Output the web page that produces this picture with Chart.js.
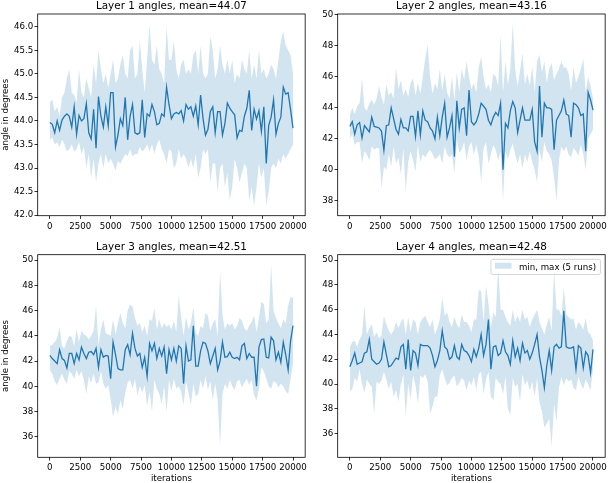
<!DOCTYPE html>
<html><head><meta charset="utf-8">
<script src="https://cdn.jsdelivr.net/npm/chart.js@4/dist/chart.umd.min.js"></script>
<style>
html,body{margin:0;padding:0;background:#fff;width:609px;height:483px;overflow:hidden}
canvas{position:absolute}
</style></head><body>
<canvas id="c1" style="left:0;top:0" width="309" height="240"></canvas>
<canvas id="c2" style="left:309px;top:0" width="300" height="240"></canvas>
<canvas id="c3" style="left:0;top:240px" width="309" height="243"></canvas>
<canvas id="c4" style="left:309px;top:240px" width="300" height="243"></canvas>
<script>
// ---------------- data ----------------
const iterations = [0,200,400,600,800,1000,1200,1400,1600,1800,2000,2200,2400,2600,2800,3000,3200,3400,3600,3800,4000,4200,4400,4600,4800,5000,5200,5400,5600,5800,6000,6200,6400,6600,6800,7000,7200,7400,7600,7800,8000,8200,8400,8600,8800,9000,9200,9400,9600,9800,10000,10200,10400,10600,10800,11000,11200,11400,11600,11800,12000,12200,12400,12600,12800,13000,13200,13400,13600,13800,14000,14200,14400,14600,14800,15000,15200,15400,15600,15800,16000,16200,16400,16600,16800,17000,17200,17400,17600,17800,18000,18200,18400,18600,18800,19000,19200,19400,19600,19800,20000];
const xTickValues = [0,2500,5000,7500,10000,12500,15000,17500,20000];
const layer1YTicks = [42.0,42.5,43.0,43.5,44.0,44.5,45.0,45.5,46.0];
const layer2YTicks = [38,40,42,44,46,48,50];
const layer34YTicks = [36,38,40,42,44,46,48,50];
const titles = ['Layer 1 angles, mean=44.07','Layer 2 angles, mean=43.16','Layer 3 angles, mean=42.51','Layer 4 angles, mean=42.48'];
const legendLabel = 'min, max (5 runs)';
const xLabel = 'iterations';
const yLabel = 'angle in degrees';

const layer1Mean = [43.97,43.93,43.75,44.0,43.8,44.02,44.1,44.15,44.1,43.87,
 44.3,43.72,44.12,44.0,44.05,44.37,43.75,43.62,44.25,43.42,
 44.52,44.1,43.87,44.3,43.9,44.6,44.6,43.45,43.7,44.05,
 43.9,44.5,43.6,44.1,44.35,43.75,43.72,43.75,44.45,43.65,
 44.15,44.1,44.35,44.2,43.92,43.95,44.15,44.1,44.72,44.35,
 44.05,44.15,44.18,44.15,44.22,44.0,44.35,44.25,44.3,44.1,
 44.32,43.92,44.55,44.05,43.7,43.82,44.2,44.3,43.75,44.2,
 44.2,43.7,43.95,44.38,44.27,44.2,44.13,43.64,43.8,43.78,
 44.1,44.27,44.65,43.8,44.25,44.04,44.22,43.78,44.3,43.1,
 43.9,44.08,44.45,43.72,43.95,44.08,44.72,44.57,44.6,44.24,
 43.85];
const layer1Max = [44.4,44.45,44.2,44.3,44.1,44.5,44.6,44.9,45.1,44.6,
 44.55,44.4,45.1,44.6,44.5,44.9,44.7,44.5,45.2,44.8,
 45.5,45.1,44.8,45.0,44.7,45.0,45.3,44.8,44.9,45.2,
 45.4,45.0,44.9,45.5,45.6,44.9,45.0,45.7,45.1,44.6,
 45.3,46.05,45.3,45.2,45.6,45.1,45.0,44.8,46.0,45.3,
 45.3,45.7,45.1,44.9,45.2,45.3,45.0,45.1,45.0,45.4,
 45.5,45.0,45.6,45.0,44.9,45.0,45.8,45.5,44.9,45.1,
 45.6,45.2,45.0,45.3,45.0,45.3,44.8,45.0,44.9,45.3,
 45.1,45.0,45.5,44.9,45.2,44.9,45.5,45.0,45.1,44.9,
 45.0,45.2,45.1,44.9,45.3,45.7,45.9,45.6,45.5,45.4,
 45.0];
const layer1Min = [43.6,43.65,43.5,43.55,43.45,43.6,43.5,43.35,43.4,43.5,
 43.35,43.4,43.55,43.3,43.45,43.0,43.3,42.8,43.2,42.7,
 43.1,43.3,43.0,43.3,43.1,43.2,43.1,42.95,43.15,43.1,
 43.2,43.3,43.25,43.4,43.25,43.3,43.3,43.45,43.35,43.4,
 43.5,43.35,43.5,43.3,43.5,43.6,43.4,43.3,43.1,43.4,
 43.35,43.0,43.1,43.4,43.2,43.3,43.2,43.0,43.2,43.0,
 43.3,42.8,43.0,43.4,43.3,43.4,42.7,43.1,43.1,42.5,
 43.0,43.1,42.6,42.9,42.3,42.6,43.2,43.0,42.7,42.9,
 43.1,43.0,42.3,42.6,42.2,42.6,43.1,42.8,43.0,42.2,
 42.5,43.0,43.1,43.0,43.2,43.1,43.3,43.2,43.3,43.4,
 43.5];

const layer2Mean = [42.8,43.1,42.3,42.9,43.05,42.05,42.85,42.65,42.45,43.4,
 42.8,42.75,42.7,42.5,41.25,42.85,42.9,44.0,43.3,42.6,
 42.3,43.25,42.7,42.7,42.5,43.45,43.45,42.15,43.8,42.25,
 43.8,43.2,43.1,42.7,42.5,42.0,43.4,42.2,43.4,44.3,
 42.1,42.7,43.5,40.85,44.45,42.7,43.9,44.0,42.2,45.15,
 43.1,42.9,43.1,43.6,44.3,44.1,43.9,43.2,42.9,43.4,
 43.7,43.5,44.3,40.0,43.0,42.7,43.8,44.4,44.0,42.4,
 43.2,44.0,43.2,43.2,43.2,43.9,41.8,41.2,45.4,42.1,
 44.3,44.0,44.0,43.9,41.3,43.2,43.5,43.8,44.5,43.6,
 43.5,42.1,44.3,44.2,44.0,43.5,43.6,41.2,45.0,44.5,
 43.85];
const layer2Max = [43.5,44.0,43.6,44.1,44.3,45.9,44.0,43.8,44.3,44.5,
 44.2,44.6,45.4,44.7,44.2,45.5,44.8,45.0,44.6,46.6,
 45.2,45.8,44.8,45.2,44.7,45.6,45.9,44.8,45.6,44.9,
 46.0,47.2,48.1,46.0,44.9,45.6,45.2,46.5,45.1,46.2,
 45.0,44.6,46.0,44.5,46.3,45.0,46.5,45.8,47.0,46.0,
 45.2,45.6,45.0,46.6,47.3,46.0,45.2,45.5,45.0,46.2,
 46.0,45.4,48.7,45.0,47.0,45.5,46.5,49.45,46.5,45.4,
 46.4,47.5,45.5,46.2,45.4,46.7,45.0,47.0,47.4,46.3,
 47.0,45.6,46.5,46.9,45.8,46.2,46.5,47.0,46.6,46.6,
 46.2,45.1,46.6,45.6,46.0,46.5,47.2,45.0,46.0,45.4,
 44.6];
const layer2Min = [42.0,42.3,41.6,41.8,41.8,40.4,41.2,41.0,40.6,41.5,
 41.3,41.4,41.4,38.8,40.2,40.0,41.0,40.2,41.5,40.4,
 40.8,39.7,41.4,38.6,40.5,41.2,40.6,39.9,41.6,40.5,
 41.0,40.8,41.1,41.3,41.0,40.7,40.8,41.0,40.4,41.5,
 41.0,40.8,41.0,39.8,42.0,41.1,41.3,41.8,40.6,41.5,
 41.8,41.0,41.6,40.9,39.2,41.4,41.8,40.4,41.0,41.6,
 41.3,40.6,41.2,38.0,41.2,40.7,41.3,41.7,41.0,40.4,
 41.0,40.1,41.0,40.5,41.2,40.5,40.0,39.2,41.3,40.5,
 41.8,41.2,41.0,40.6,39.5,38.0,40.6,41.5,41.2,41.5,
 41.0,40.8,41.4,41.2,40.9,41.6,41.0,40.0,42.0,42.3,
 42.6];

const layer3Mean = [42.45,42.2,42.0,41.8,42.9,42.2,42.05,41.45,42.6,42.6,
 41.8,42.6,42.1,43.1,42.6,42.2,42.7,42.75,42.5,43.0,
 41.5,42.9,42.3,42.45,42.4,40.6,43.5,42.5,41.4,41.3,
 41.3,42.9,43.3,42.5,44.2,43.0,42.4,42.6,41.5,42.3,
 40.8,43.4,42.8,43.4,42.2,43.0,42.4,43.1,41.0,42.9,
 42.1,43.0,42.0,43.2,43.0,40.2,43.2,42.0,42.1,44.8,
 41.6,41.6,42.8,43.5,43.4,42.8,41.8,42.4,43.0,41.3,
 42.0,43.5,42.3,42.35,42.7,42.3,42.2,42.3,42.1,43.2,
 43.4,42.2,42.6,42.3,42.3,40.0,43.1,43.7,43.75,42.3,
 42.25,43.9,43.6,42.1,42.7,41.9,43.5,42.5,41.3,43.6,
 44.8];
const layer3Max = [43.2,43.3,43.5,43.8,44.7,43.2,43.0,43.6,44.0,43.9,
 43.2,44.5,43.5,44.4,44.1,44.0,43.7,44.0,44.4,46.4,
 43.3,44.5,45.3,44.2,44.1,44.0,45.3,44.1,45.0,45.8,
 45.0,44.6,46.0,46.5,46.3,45.4,44.8,45.0,44.3,44.8,
 44.0,45.3,45.2,46.2,44.5,45.3,44.6,45.0,44.7,44.9,
 44.5,45.2,44.3,47.2,45.5,44.0,45.5,44.5,45.0,46.3,
 44.2,44.0,44.8,44.6,45.8,45.6,44.4,45.0,45.3,44.0,
 49.1,45.6,44.5,45.0,44.8,45.0,44.5,44.8,45.4,45.2,
 44.6,44.4,44.8,45.1,45.6,44.3,45.4,46.7,46.5,45.0,
 45.3,49.6,46.0,45.4,45.0,44.6,45.3,45.0,46.4,47.1,
 47.0];
const layer3Min = [41.3,41.0,40.4,40.1,40.6,41.0,40.5,40.2,41.2,41.0,
 40.6,41.3,40.8,41.2,40.5,39.4,40.8,40.3,41.0,40.2,
 40.3,41.2,40.2,39.8,40.1,39.0,37.6,38.4,37.8,38.9,
 38.2,39.5,40.3,40.5,39.8,40.6,39.3,40.0,39.5,40.1,
 38.4,39.6,38.0,40.5,39.8,39.4,38.6,40.0,38.0,40.5,
 39.6,40.6,39.8,40.0,39.6,38.5,40.4,39.5,38.5,40.2,
 39.2,39.4,40.5,39.8,40.8,39.7,40.4,38.9,40.2,39.0,
 35.3,39.4,40.2,39.8,40.5,40.0,39.7,40.4,40.5,39.9,
 40.3,40.6,40.1,40.5,39.3,38.9,39.8,41.5,41.2,40.6,
 40.0,39.8,40.4,40.3,39.9,40.2,40.0,39.6,39.4,40.6,
 41.8];

const layer4Mean = [41.4,41.9,42.5,41.6,41.7,41.8,42.5,42.6,43.6,42.0,
 41.8,41.6,41.7,42.0,43.4,42.4,41.4,41.5,41.8,42.1,
 42.0,43.0,43.2,41.2,43.6,41.1,42.7,42.5,41.5,43.2,
 43.1,43.1,43.1,42.9,42.3,41.4,41.9,42.7,44.3,43.0,
 42.8,42.0,42.2,43.1,42.2,42.0,43.2,42.7,42.6,42.3,
 41.8,42.8,42.2,42.9,44.0,42.3,43.2,45.2,41.2,43.0,
 43.1,42.3,42.5,43.5,42.6,42.3,41.6,43.5,42.2,42.9,
 41.9,43.3,42.5,42.7,42.0,42.5,43.2,44.0,42.2,41.1,
 39.7,41.5,42.7,41.1,43.0,43.2,42.9,43.0,45.9,43.0,
 42.9,42.9,43.0,41.2,43.1,42.9,41.3,42.6,42.3,40.9,
 42.8];
const layer4Max = [43.0,43.4,43.5,43.0,43.6,44.0,46.3,44.0,44.5,44.8,
 43.8,44.2,43.7,43.9,45.5,44.8,44.3,44.0,44.3,45.0,
 44.5,45.0,45.3,44.0,45.4,44.2,45.2,45.0,44.0,45.0,
 45.3,45.5,45.0,44.6,45.2,44.0,44.5,45.2,47.0,45.5,
 45.8,45.0,44.6,45.4,44.8,44.5,45.6,45.0,45.0,44.7,
 44.2,45.2,45.2,47.6,47.5,45.0,47.9,46.5,44.5,45.8,
 45.4,49.5,46.0,46.0,45.4,45.0,44.7,46.0,45.0,45.5,
 45.0,46.0,45.2,45.4,44.6,45.2,45.6,46.0,45.0,44.5,
 44.0,44.8,45.4,44.3,49.2,46.0,46.0,45.5,47.8,45.6,
 45.4,45.2,45.3,44.4,45.0,44.8,44.4,45.3,44.2,44.0,
 43.5];
const layer4Min = [39.4,39.6,40.5,40.2,41.2,40.0,39.3,40.4,40.0,39.8,
 37.6,40.2,40.0,40.3,41.0,40.4,39.6,40.2,39.0,39.5,
 38.6,40.0,40.8,37.5,40.0,38.8,40.7,39.9,38.4,40.7,
 40.5,40.8,40.2,37.6,38.2,39.0,39.0,40.7,41.2,40.5,
 39.9,40.1,40.5,40.7,39.8,40.1,40.5,40.3,39.5,40.3,
 39.9,40.6,39.5,40.8,41.0,39.2,40.4,41.0,39.0,38.7,
 40.5,40.2,40.0,39.2,40.6,38.0,37.5,40.5,39.8,40.0,
 38.6,40.8,39.9,40.3,39.5,40.2,39.0,40.5,38.5,37.8,
 36.5,36.8,37.2,35.0,38.4,37.0,39.7,40.6,39.9,40.5,
 40.2,40.4,39.7,39.5,40.6,40.0,39.6,40.4,40.0,39.5,
 41.2];

// ---------------- styling ----------------
const C0 = '#1f77b4';
const BAND = 'rgba(31,119,180,0.2)';
const FONT = 'DejaVu Sans';
const tickFont = {family: FONT, size: 8.64};
const titleFont = {family: FONT, size: 10.4};

const framePlugin = {
  id: 'frame',
  afterDraw(chart) {
    const a = chart.chartArea, ctx = chart.ctx;
    ctx.save();
    ctx.strokeStyle = '#000';
    ctx.lineWidth = 0.8;
    ctx.strokeRect(a.left, a.top, a.right - a.left, a.bottom - a.top);
    const o = chart.options.plugins.panelTitle;
    ctx.fillStyle = '#000';
    ctx.font = titleFont.size + 'px "' + FONT + '"';
    ctx.textAlign = 'center';
    ctx.textBaseline = 'alphabetic';
    ctx.fillText(o.text, (a.left + a.right) / 2, a.top - 5.0);
    if (o.legend) {
      const w = 109.6, h = 15.2;
      const x0 = a.right - 4.6 - w, y0 = a.top + 4.6;
      ctx.beginPath();
      ctx.roundRect(x0, y0, w, h, 2);
      ctx.fillStyle = 'rgba(255,255,255,0.8)';
      ctx.fill();
      ctx.strokeStyle = '#cccccc';
      ctx.lineWidth = 0.8;
      ctx.stroke();
      ctx.fillStyle = BAND;
      ctx.fillRect(x0 + 4, y0 + 3.4, 16.6, 6);
      ctx.fillStyle = '#000';
      ctx.font = tickFont.size + 'px "' + FONT + '"';
      ctx.textAlign = 'left';
      ctx.fillText(legendLabel, x0 + 28, y0 + 10.6);
    }
    ctx.restore();
  }
};

function panel(id, cfg) {
  const pts = arr => iterations.map((x, i) => ({x: x, y: arr[i]}));
  new Chart(document.getElementById(id), {
    type: 'line',
    data: {
      datasets: [
        {data: pts(cfg.min), borderWidth: 0, borderColor: 'transparent', pointRadius: 0, fill: false},
        {data: pts(cfg.max), borderWidth: 0, borderColor: 'transparent', pointRadius: 0, fill: '-1', backgroundColor: BAND},
        {data: pts(cfg.mean), borderWidth: 1.3, borderColor: C0, pointRadius: 0, fill: false, tension: 0}
      ]
    },
    options: {
      responsive: false,
      animation: false,
      events: [],
      layout: {autoPadding: false, padding: {top: cfg.padTop, right: cfg.padRight, left: 0, bottom: 0}},
      plugins: {
        legend: {display: false},
        tooltip: {enabled: false},
        panelTitle: {text: cfg.title, legend: !!cfg.legend}
      },
      scales: {
        x: {
          type: 'linear', min: -1000, max: 21000,
          afterBuildTicks: s => { s.ticks = xTickValues.map(v => ({value: v})); },
          afterFit: s => { s.height = cfg.xAxisHeight; },
          ticks: {callback: v => String(v), font: tickFont, color: '#000', padding: 2.2, maxRotation: 0, minRotation: 0, autoSkip: false},
          grid: {drawOnChartArea: false, drawTicks: true, tickLength: 3.2, color: '#000', lineWidth: 0.8},
          border: {display: false},
          title: {display: !!cfg.xTitle, text: xLabel, font: {family: FONT, size: 8.64, lineHeight: 1.0}, color: '#000', padding: {top: 0, bottom: 0.2}}
        },
        y: {
          type: 'linear', min: cfg.yMin, max: cfg.yMax,
          afterBuildTicks: s => { s.ticks = cfg.yTicks.map(v => ({value: v})); },
          afterFit: s => { s.width = cfg.yAxisWidth; },
          ticks: {callback: v => v.toFixed(cfg.dec), font: tickFont, color: '#000', padding: 1.2},
          grid: {drawOnChartArea: false, drawTicks: true, tickLength: 3.2, color: '#000', lineWidth: 0.8},
          border: {display: false},
          title: {display: !!cfg.yTitle, text: yLabel, font: {family: FONT, size: 8.64, lineHeight: 1.2}, color: '#000', padding: {top: 1.0, bottom: 0}}
        }
      }
    },
    plugins: [framePlugin]
  });
}

panel('c1', {mean: layer1Mean, min: layer1Min, max: layer1Max, title: titles[0], yMin: 41.99, yMax: 46.27, yTicks: layer1YTicks, dec: 1,
  yAxisWidth: 37.7, padTop: 14, padRight: 1.7, xAxisHeight: 24.3, yTitle: true});
panel('c2', {mean: layer2Mean, min: layer2Min, max: layer2Max, title: titles[1], yMin: 37.04, yMax: 50.05, yTicks: layer2YTicks, dec: 0,
  yAxisWidth: 28.7, padTop: 14, padRight: 2, xAxisHeight: 24.3});
panel('c3', {mean: layer3Mean, min: layer3Min, max: layer3Max, title: titles[2], yMin: 34.38, yMax: 50.42, yTicks: layer34YTicks, dec: 0,
  yAxisWidth: 37.7, padTop: 14.7, padRight: 1.7, xAxisHeight: 25.7, yTitle: true, xTitle: true});
panel('c4', {mean: layer4Mean, min: layer4Min, max: layer4Max, title: titles[3], yMin: 34.1, yMax: 50.43, yTicks: layer34YTicks, dec: 0,
  yAxisWidth: 28.7, padTop: 14.7, padRight: 2, xAxisHeight: 25.7, xTitle: true, legend: true});
</script>
</body></html>
